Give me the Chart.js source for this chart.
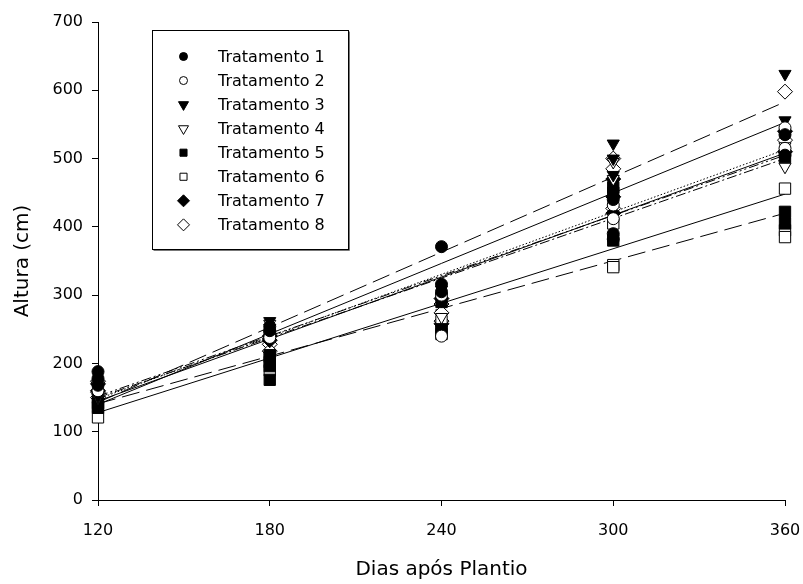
<!DOCTYPE html>
<html>
<head>
<meta charset="utf-8">
<script src="https://cdn.jsdelivr.net/npm/chart.js@4.4.1/dist/chart.umd.min.js"></script>
<style>
  body { margin: 0; background: #fff; }
  canvas { display: block; }
</style>
</head>
<body>
<canvas id="alturaChart" width="803" height="584"></canvas>
<script>
// dias de avaliacao (eixo x)
const dias = [120, 180, 240, 300, 360];
const ticksY = [0, 100, 200, 300, 400, 500, 600, 700];
const nomes = ['Tratamento 1', 'Tratamento 2', 'Tratamento 3', 'Tratamento 4',
               'Tratamento 5', 'Tratamento 6', 'Tratamento 7', 'Tratamento 8'];

// alturas (cm) de cada repeticao, uma lista por dia
const trat1 = [[188, 178, 168], [254, 248], [371, 316, 305], [440, 390, 382], [535, 505]];
const trat2 = [[172, 160], [245, 238], [300, 240], [432, 412], [545, 515]];
const trat3 = [[168, 152], [262, 252], [308, 292], [522, 500, 476], [624, 556]];
const trat4 = [[164, 150], [258, 243], [298, 268], [495, 470], [518, 488]];
const trat5 = [[150, 142, 135], [212, 196, 176], [290, 250, 243], [458, 450, 380], [502, 422, 405]];
const trat6 = [[137, 121], [210, 202, 190], [262, 248], [405, 344, 341], [456, 395, 385]];
const trat7 = [[170, 160], [240, 234], [295, 258], [470, 444, 420], [540, 510]];
const trat8 = [[174, 158, 150], [228, 218], [287, 274, 262], [500, 485, 427], [598, 527]];
const tratamentos = [trat1, trat2, trat3, trat4, trat5, trat6, trat7, trat8];

// retas de regressao: valor estimado aos 120 e aos 360 dias
const ajusteInicio = [148, 145, 143, 150, 141, 128, 152, 140];
const ajusteFim = [513, 508, 583, 500, 420, 448, 505, 553];

// estilos
const simbolos = [
  { estilo: 'circle', cheio: true, rot: 0, raio: 6, raioLeg: 4 },
  { estilo: 'circle', cheio: false, rot: 0, raio: 6, raioLeg: 4 },
  { estilo: 'triangle', cheio: true, rot: 180, raio: 7, raioLeg: 5.8 },
  { estilo: 'triangle', cheio: false, rot: 180, raio: 7, raioLeg: 5.8 },
  { estilo: 'rect', cheio: true, rot: 0, raio: 8, raioLeg: 5 },
  { estilo: 'rect', cheio: false, rot: 0, raio: 8, raioLeg: 5 },
  { estilo: 'rectRot', cheio: true, rot: 0, raio: 7.5, raioLeg: 6 },
  { estilo: 'rectRot', cheio: false, rot: 0, raio: 7.5, raioLeg: 6 }
];
const tracos = [[1.5, 2], [], [18, 7], [10, 3, 2, 3], [18, 7], [], [10, 3, 2, 3, 2, 3], []];

const FONTE = '"DejaVu Sans", sans-serif';
Chart.defaults.font.family = FONTE;
Chart.defaults.color = '#000';

function pontos(trat) {
  const lista = [];
  dias.forEach((d, j) => trat[j].forEach(v => lista.push({ x: d, y: v })));
  return lista;
}

const datasets = [];
tratamentos.forEach((trat, i) => {
  const s = simbolos[i];
  datasets.push({
    label: nomes[i],
    data: pontos(trat),
    pointStyle: s.estilo,
    rotation: s.rot,
    pointRadius: s.raio,
    pointBackgroundColor: s.cheio ? '#000' : '#fff',
    pointBorderColor: '#000',
    pointBorderWidth: 1,
    showLine: false,
    clip: false
  });
});
tratamentos.forEach((trat, i) => {
  datasets.push({
    label: 'ajuste ' + (i + 1),
    data: [{ x: dias[0], y: ajusteInicio[i] }, { x: dias[dias.length - 1], y: ajusteFim[i] }],
    showLine: true,
    borderColor: '#000',
    borderWidth: 1,
    borderDash: tracos[i],
    pointRadius: 0,
    fill: false
  });
});

function desenharSimbolo(ctx, s, raio, x, y) {
  ctx.fillStyle = s.cheio ? '#000' : '#fff';
  ctx.strokeStyle = '#000';
  ctx.lineWidth = 1;
  Chart.helpers.drawPoint(ctx, { pointStyle: s.estilo, rotation: s.rot, radius: raio, borderWidth: 1 }, x, y);
}

const legendaPlugin = {
  id: 'legenda',
  afterDraw(chart) {
    const ctx = chart.ctx;
    ctx.save();
    ctx.setLineDash([]);
    ctx.fillStyle = '#fff';
    ctx.fillRect(152, 30, 197, 220);
    ctx.strokeStyle = '#000';
    ctx.lineWidth = 1;
    ctx.strokeRect(152.5, 30.5, 196, 219);
    ctx.strokeStyle = '#777';
    ctx.beginPath();
    ctx.moveTo(153.5, 250.5);
    ctx.lineTo(349.5, 250.5);
    ctx.lineTo(349.5, 31.5);
    ctx.stroke();
    nomes.forEach((nome, i) => {
      const y = 56.5 + i * 24.05;
      desenharSimbolo(ctx, simbolos[i], simbolos[i].raioLeg, 183.5, y);
      ctx.fillStyle = '#000';
      ctx.font = '16px ' + FONTE;
      ctx.textBaseline = 'middle';
      ctx.textAlign = 'left';
      ctx.fillText(nome, 218, y + 1);
    });
    ctx.restore();
  }
};

new Chart(document.getElementById('alturaChart').getContext('2d'), {
  type: 'scatter',
  data: { datasets: datasets },
  options: {
    responsive: false,
    animation: false,
    layout: { padding: { left: 11, right: 18, top: 22, bottom: 2 } },
    plugins: { legend: { display: false }, tooltip: { enabled: false } },
    scales: {
      x: {
        type: 'linear',
        min: 120,
        max: 360,
        afterBuildTicks: s => { s.ticks = dias.map(v => ({ value: v })); },
        ticks: { padding: 15, font: { size: 16 }, color: '#000' },
        grid: { drawOnChartArea: false, tickLength: 6, color: '#000' },
        border: { color: '#000' },
        title: { display: true, text: 'Dias após Plantio', font: { size: 20 }, padding: 0, color: '#000' },
        afterFit: s => { s.height = 82; s.paddingRight = 0; s.paddingLeft = 0; }
      },
      y: {
        min: 0,
        max: 700,
        afterBuildTicks: s => { s.ticks = ticksY.map(v => ({ value: v })); },
        ticks: { padding: 9, font: { size: 16 }, color: '#000' },
        grid: { drawOnChartArea: false, tickLength: 6, color: '#000' },
        border: { color: '#000' },
        title: { display: true, text: 'Altura (cm)', font: { size: 20 }, padding: 0, color: '#000' },
        afterFit: s => { s.width = 87; s.paddingTop = 0; s.paddingBottom = 0; }
      }
    }
  },
  plugins: [legendaPlugin]
});
</script>
</body>
</html>
